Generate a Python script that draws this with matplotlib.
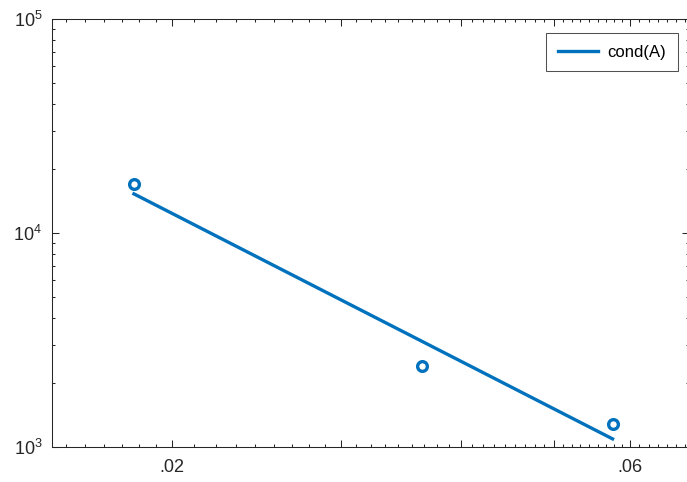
import numpy as np
import matplotlib
matplotlib.use("Agg")
import matplotlib.pyplot as plt
from matplotlib.ticker import FixedLocator, FixedFormatter, LogLocator

plt.rcParams['font.family'] = ['Liberation Sans', 'DejaVu Sans']

# data
h = [0.01826, 0.03644, 0.0576]
cond_vals = [16940, 2390, 1281]

# tick layout
x_major = [0.02, 0.03, 0.04, 0.05, 0.06]
x_major_labels = ['.02', '', '', '', '.06']
x_minor = ([0.02 - k * 0.00075 for k in range(1, 7)]
           + [a + k * 0.01 / 9 for a in x_major[:-1] for k in range(1, 9)]
           + [0.06 + k * 0.01 / 7 for k in range(1, 7)])

BLUE = "#0072BD"
AX_COL = "#262626"

# least squares fit in log-log space
p = np.polyfit(np.log10(h), np.log10(cond_vals), 1)
fit = 10 ** np.polyval(p, np.log10(h))

fig = plt.figure(figsize=(6.87, 4.82), dpi=100)
ax = fig.add_axes([52 / 687, 35 / 482, 637 / 687, 428 / 482])

ax.plot(h, fit, color=BLUE, linewidth=2.4, label="cond(A)", zorder=3)
ax.plot(h, cond_vals, linestyle="none", marker="o", markersize=7,
        markerfacecolor="none", markeredgecolor=BLUE, markeredgewidth=2.4,
        zorder=4)

ax.set_xscale("log")
ax.set_yscale("log")
ax.set_xlim(0.015, 0.0692)
ax.set_ylim(1e3, 1e5)

ax.xaxis.set_major_locator(FixedLocator(x_major))
ax.xaxis.set_major_formatter(FixedFormatter(x_major_labels))
ax.xaxis.set_minor_locator(FixedLocator(x_minor))
ax.xaxis.set_minor_formatter(FixedFormatter([]))
ax.yaxis.set_minor_locator(LogLocator(base=10, subs=np.arange(2, 10)))

ax.tick_params(which="both", direction="in", top=True, right=True,
               color=AX_COL, width=0.75, labelsize=13, labelcolor="#262626")
ax.tick_params(which="major", length=5)
ax.tick_params(which="minor", length=2.4)
ax.tick_params(axis="x", pad=9)
ax.tick_params(axis="y", pad=7)

for s in ax.spines.values():
    s.set_color(AX_COL)
    s.set_linewidth(0.75)

leg = ax.legend(loc="upper right", bbox_to_anchor=(678 / 687, (482 - 33) / 482),
                bbox_transform=fig.transFigure, borderaxespad=0,
                fontsize=12, frameon=True, fancybox=False, edgecolor=AX_COL,
                handlelength=2.4, borderpad=0.7, handletextpad=0.6)
leg.get_frame().set_linewidth(0.75)

fig.savefig("out.png", dpi=100, facecolor="white")
